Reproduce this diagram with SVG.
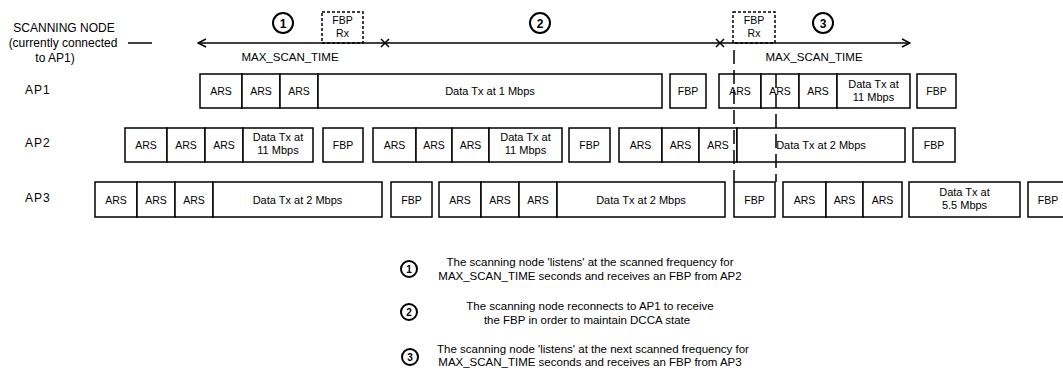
<svg xmlns="http://www.w3.org/2000/svg" width="1063" height="374" viewBox="0 0 1063 374">
<style>
.b{fill:#fff;stroke:#000;stroke-width:1.5}
.t{font-family:"Liberation Sans",Arial,sans-serif;font-size:11px;fill:#000;text-anchor:middle}
.s{font-size:10.5px}
.g{font-size:11.5px}
.l{font-family:"Liberation Sans",Arial,sans-serif;font-size:12px;fill:#000}
.c{fill:#fff;stroke:#000;stroke-width:2}
.n{font-family:"Liberation Sans",Arial,sans-serif;font-size:12px;font-weight:bold;text-anchor:middle}
.ln{stroke:#000;stroke-width:1.5;fill:none}
.dash{stroke:#000;stroke-width:1.5;fill:none;stroke-dasharray:3 2}
.vd{stroke:#000;stroke-width:1.5;fill:none;stroke-dasharray:14 6}
</style>
<defs>
<marker id="ah" viewBox="0 0 10 10" refX="9" refY="5" markerWidth="10" markerHeight="10" markerUnits="userSpaceOnUse" orient="auto-start-reverse">
<path d="M1,1 L9,5 L1,9" fill="none" stroke="#000" stroke-width="1.5"/>
</marker>
</defs>
<rect width="1063" height="374" fill="#fff"/>

<g id="scanning-node">
<text class="l" x="64" y="32" text-anchor="middle">SCANNING NODE</text>
<text class="l" x="63" y="47" text-anchor="middle">(currently connected</text>
<text class="l" x="55" y="62" text-anchor="middle">to AP1)</text>
</g>
<g id="ap-labels">
<text class="l" x="25" y="94" letter-spacing="1">AP1</text>
<text class="l" x="25" y="147" letter-spacing="1">AP2</text>
<text class="l" x="25" y="202" letter-spacing="1">AP3</text>
</g>

<g id="connectors">
<line class="ln" x1="128" y1="43" x2="152" y2="43"/>
<line class="ln" x1="198" y1="43" x2="910" y2="43" marker-start="url(#ah)" marker-end="url(#ah)"/>
<path class="ln" d="M381,39 L389,47 M389,39 L381,47"/>
<path class="ln" d="M716,39 L724,47 M724,39 L716,47"/>
</g>

<g id="step1">
<circle class="c" cx="283" cy="23" r="10"/>
<text class="n" x="283" y="27.5">1</text>
</g>
<g id="step2">
<circle class="c" cx="540" cy="23" r="10"/>
<text class="n" x="540" y="27.5">2</text>
</g>
<g id="step3">
<circle class="c" cx="823" cy="23" r="10"/>
<text class="n" x="823" y="27.5">3</text>
</g>

<g id="fbp-rx-1">
<rect class="dash" x="322" y="12" width="41" height="31" fill="none"/>
<text class="t s" x="342.5" y="24">FBP</text>
<text class="t s" x="342.5" y="37">Rx</text>
</g>
<g id="fbp-rx-2">
<rect class="dash" x="733" y="12" width="42" height="31" fill="none"/>
<text class="t s" x="754" y="24">FBP</text>
<text class="t s" x="754" y="37">Rx</text>
</g>
<g id="max-scan-1"><text class="t" x="290" y="61" style="font-size:11.5px">MAX_SCAN_TIME</text></g>
<g id="max-scan-2"><text class="t" x="814" y="61" style="font-size:11.5px">MAX_SCAN_TIME</text></g>

<g id="ap1-row">
<rect class="b" x="200" y="74" width="42" height="34"/><text class="t s" x="221" y="95">ARS</text>
<rect class="b" x="242" y="74" width="38" height="34"/><text class="t s" x="261" y="95">ARS</text>
<rect class="b" x="280" y="74" width="38" height="34"/><text class="t s" x="299" y="95">ARS</text>
<rect class="b" x="318" y="74" width="344" height="34"/><text class="t" x="490" y="95">Data Tx at 1 Mbps</text>
<rect class="b" x="670" y="74" width="36" height="34"/><text class="t s" x="688" y="95">FBP</text>
<rect class="b" x="719" y="74" width="42" height="34"/><text class="t s" x="740" y="95">ARS</text>
<rect class="b" x="761" y="74" width="38" height="34"/><text class="t s" x="780" y="95">ARS</text>
<rect class="b" x="799" y="74" width="38" height="34"/><text class="t s" x="818" y="95">ARS</text>
<rect class="b" x="837" y="74" width="73" height="34"/><text class="t" x="873.5" y="88">Data Tx at</text><text class="t" x="873.5" y="101">11 Mbps</text>
<rect class="b" x="917" y="74" width="39" height="34"/><text class="t s" x="936.5" y="95">FBP</text>
</g>

<g id="ap2-row">
<rect class="b" x="125" y="128" width="42" height="34"/><text class="t s" x="146" y="149">ARS</text>
<rect class="b" x="167" y="128" width="38" height="34"/><text class="t s" x="186" y="149">ARS</text>
<rect class="b" x="205" y="128" width="38" height="34"/><text class="t s" x="224" y="149">ARS</text>
<rect class="b" x="243" y="128" width="70" height="34"/><text class="t" x="278" y="141">Data Tx at</text><text class="t" x="278" y="154">11 Mbps</text>
<rect class="b" x="323" y="128" width="40" height="34"/><text class="t s" x="343" y="149">FBP</text>
<rect class="b" x="373" y="128" width="43" height="34"/><text class="t s" x="394.5" y="149">ARS</text>
<rect class="b" x="416" y="128" width="36" height="34"/><text class="t s" x="434" y="149">ARS</text>
<rect class="b" x="452" y="128" width="37" height="34"/><text class="t s" x="470.5" y="149">ARS</text>
<rect class="b" x="489" y="128" width="73" height="34"/><text class="t" x="525.5" y="141">Data Tx at</text><text class="t" x="525.5" y="154">11 Mbps</text>
<rect class="b" x="569" y="128" width="41" height="34"/><text class="t s" x="589.5" y="149">FBP</text>
<rect class="b" x="619" y="128" width="43" height="34"/><text class="t s" x="640.5" y="149">ARS</text>
<rect class="b" x="662" y="128" width="37" height="34"/><text class="t s" x="680.5" y="149">ARS</text>
<rect class="b" x="699" y="128" width="38" height="34"/><text class="t s" x="718" y="149">ARS</text>
<rect class="b" x="737" y="128" width="168" height="34"/><text class="t" x="821" y="149">Data Tx at 2 Mbps</text>
<rect class="b" x="913" y="128" width="42" height="34"/><text class="t s" x="934" y="149">FBP</text>
</g>

<g id="ap3-row">
<rect class="b" x="95" y="182" width="42" height="35"/><text class="t s" x="116" y="203.5">ARS</text>
<rect class="b" x="137" y="182" width="38" height="35"/><text class="t s" x="156" y="203.5">ARS</text>
<rect class="b" x="175" y="182" width="38" height="35"/><text class="t s" x="194" y="203.5">ARS</text>
<rect class="b" x="213" y="182" width="169" height="35"/><text class="t" x="297.5" y="203.5">Data Tx at 2 Mbps</text>
<rect class="b" x="391" y="182" width="41" height="35"/><text class="t s" x="411.5" y="203.5">FBP</text>
<rect class="b" x="439" y="182" width="42" height="35"/><text class="t s" x="460" y="203.5">ARS</text>
<rect class="b" x="481" y="182" width="38" height="35"/><text class="t s" x="500" y="203.5">ARS</text>
<rect class="b" x="519" y="182" width="38" height="35"/><text class="t s" x="538" y="203.5">ARS</text>
<rect class="b" x="557" y="182" width="168" height="35"/><text class="t" x="641" y="203.5">Data Tx at 2 Mbps</text>
<rect class="b" x="734" y="182" width="41" height="35"/><text class="t s" x="754.5" y="203.5">FBP</text>
<rect class="b" x="783" y="182" width="43" height="35"/><text class="t s" x="804.5" y="203.5">ARS</text>
<rect class="b" x="826" y="182" width="37" height="35"/><text class="t s" x="844.5" y="203.5">ARS</text>
<rect class="b" x="863" y="182" width="39" height="35"/><text class="t s" x="882.5" y="203.5">ARS</text>
<rect class="b" x="909" y="182" width="111" height="35"/><text class="t" x="964.5" y="196">Data Tx at</text><text class="t" x="964.5" y="209">5.5 Mbps</text>
<rect class="b" x="1028" y="182" width="45" height="35"/><text class="t s" x="1048" y="203.5">FBP</text>
</g>

<g id="fbp-window-lines">
<line class="vd" x1="734" y1="50" x2="734" y2="182"/>
<line class="vd" x1="776" y1="74" x2="776" y2="182"/>
</g>

<g id="legend-1">
<circle class="c" cx="409" cy="269" r="8"/>
<text class="n" x="409" y="273" style="font-size:10px">1</text>
<text class="t g" x="590" y="266">The scanning node 'listens' at the scanned frequency for</text>
<text class="t g" x="590" y="280">MAX_SCAN_TIME seconds and receives an FBP from AP2</text>
</g>
<g id="legend-2">
<circle class="c" cx="409" cy="312" r="8"/>
<text class="n" x="409" y="316" style="font-size:10px">2</text>
<text class="t g" x="590" y="310">The scanning node reconnects to AP1 to receive</text>
<text class="t g" x="587" y="324">the FBP in order to maintain DCCA state</text>
</g>
<g id="legend-3">
<circle class="c" cx="410" cy="357" r="8"/>
<text class="n" x="410" y="361" style="font-size:10px">3</text>
<text class="t g" x="593" y="353">The scanning node 'listens' at the next scanned frequency for</text>
<text class="t g" x="590" y="366">MAX_SCAN_TIME seconds and receives an FBP from AP3</text>
</g>
</svg>
